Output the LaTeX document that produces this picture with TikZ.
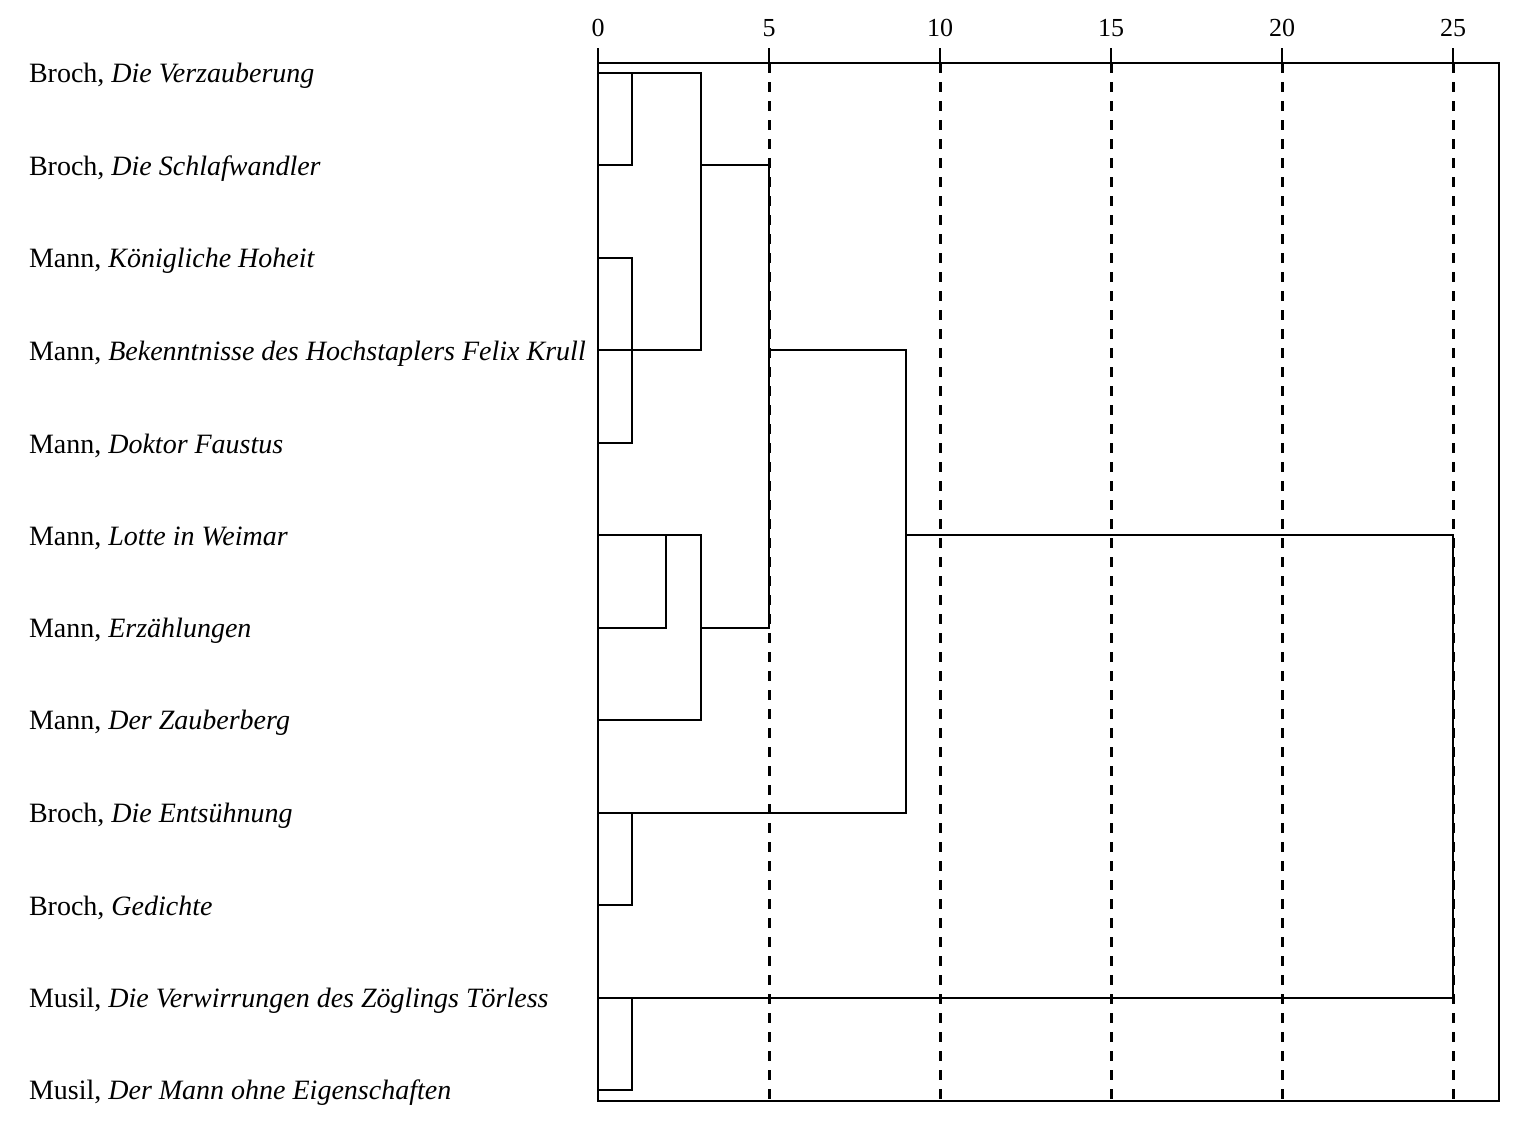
\documentclass[tikz,border=0pt]{standalone}
\usepackage{fontspec}
\setmainfont{Liberation Serif}
\begin{document}
\begin{tikzpicture}[x=0.5pt,y=-0.5pt,
  line width=1pt,
  lab/.style={anchor=west,inner sep=0pt,yshift=-1.5pt,font=\fontsize{14}{16}\selectfont},
  ticklab/.style={anchor=center,inner sep=0pt,font=\fontsize{13}{15}\selectfont},
  grid/.style={line width=1.5pt,dash pattern=on 5pt off 4.5pt},
  den/.style={line width=1pt}]
\useasboundingbox (0,0) rectangle (1527,1132);
% geometry helpers
\def\X#1{598+34.2*#1}
\def\R#1{73+92.45*#1}
% dashed reference lines
\foreach \v in {5,10,15,20,25}
  \draw[grid] ({\X{\v}},63) -- ({\X{\v}},1101);
% ticks and labels
\foreach \v in {0,5,10,15,20,25}{
  \draw ({\X{\v}},48) -- ({\X{\v}},63);
  \node[ticklab] (t\v) at ({\X{\v}},28) {\v};
}
% frame
\draw (598,63) rectangle (1499,1101);
% row labels
\node[lab] (l0) at (28,{\R{0}}) {Broch, \textit{Die Verzauberung}};
\node[lab] (l1) at (28,{\R{1}}) {Broch, \textit{Die Schlafwandler}};
\node[lab] (l2) at (28,{\R{2}}) {Mann, \textit{Königliche Hoheit}};
\node[lab] (l3) at (28,{\R{3}}) {Mann, \textit{Bekenntnisse des Hochstaplers Felix Krull}};
\node[lab] (l4) at (28,{\R{4}}) {Mann, \textit{Doktor Faustus}};
\node[lab] (l5) at (28,{\R{5}}) {Mann, \textit{Lotte in Weimar}};
\node[lab] (l6) at (28,{\R{6}}) {Mann, \textit{Erzählungen}};
\node[lab] (l7) at (28,{\R{7}}) {Mann, \textit{Der Zauberberg}};
\node[lab] (l8) at (28,{\R{8}}) {Broch, \textit{Die Entsühnung}};
\node[lab] (l9) at (28,{\R{9}}) {Broch, \textit{Gedichte}};
\node[lab] (l10) at (28,{\R{10}}) {Musil, \textit{Die Verwirrungen des Zöglings Törless}};
\node[lab] (l11) at (28,{\R{11}}) {Musil, \textit{Der Mann ohne Eigenschaften}};
% dendrogram
\draw[den] (598,{\R{0}}) -- ({\X{3}},{\R{0}}) -- ({\X{3}},{\R{3}}) -- (598,{\R{3}});
\draw[den] (598,{\R{1}}) -- ({\X{1}},{\R{1}}) -- ({\X{1}},{\R{0}});
\draw[den] (598,{\R{2}}) -- ({\X{1}},{\R{2}}) -- ({\X{1}},{\R{4}}) -- (598,{\R{4}});
\draw[den] ({\X{3}},{\R{1}}) -- ({\X{5}},{\R{1}}) -- ({\X{5}},{\R{6}}) -- ({\X{3}},{\R{6}});
\draw[den] (598,{\R{5}}) -- ({\X{3}},{\R{5}}) -- ({\X{3}},{\R{7}}) -- (598,{\R{7}});
\draw[den] (598,{\R{6}}) -- ({\X{2}},{\R{6}}) -- ({\X{2}},{\R{5}});
\draw[den] ({\X{5}},{\R{3}}) -- ({\X{9}},{\R{3}}) -- ({\X{9}},{\R{8}}) -- (598,{\R{8}});
\draw[den] (598,{\R{9}}) -- ({\X{1}},{\R{9}}) -- ({\X{1}},{\R{8}});
\draw[den] ({\X{9}},{\R{5}}) -- ({\X{25}},{\R{5}}) -- ({\X{25}},{\R{10}}) -- (598,{\R{10}});
\draw[den] (598,{\R{11}}) -- ({\X{1}},{\R{11}}) -- ({\X{1}},{\R{10}});
\end{tikzpicture}
\end{document}
